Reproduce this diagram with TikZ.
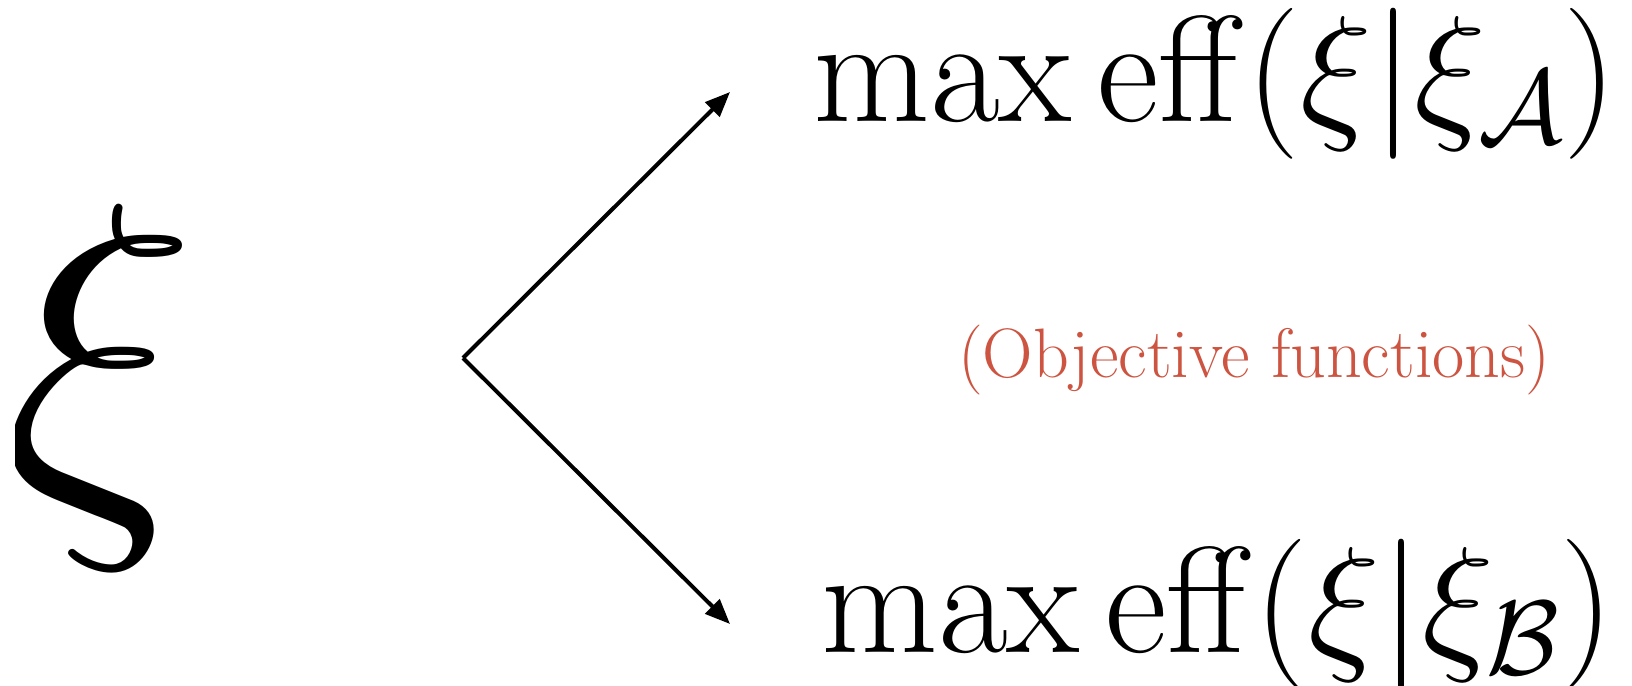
\RequirePackage{fix-cm}
\documentclass[tikz,border=0pt]{standalone}
\usepackage{amsmath}
\usetikzlibrary{arrows.meta}
\definecolor{objred}{RGB}{204,84,64}
\tikzset{
  conn/.style={line width=4pt,-{Triangle[length=25pt,width=20pt]}},
  bigtext/.style={inner sep=0pt,anchor=base west,font=\fontsize{151}{151}\selectfont},
}
\begin{document}
\begin{tikzpicture}[x=1pt,y=-1pt]
\useasboundingbox (0,0) rectangle (1632,685);
\begin{scope}
\clip (15,0) rectangle (400,685);
\node[inner sep=0pt,anchor=base west,font=\fontsize{410}{410}\selectfont] (xi) at (2,489) {$\xi$};
\end{scope}
\coordinate (v) at (463,358);
\coordinate (a) at (730,92);
\coordinate (b) at (730,624);
\draw[conn] (v) -- (a);
\draw[conn] (v) -- (b);
\node[bigtext] (ta) at (813,121) {$\max\operatorname{eff}(\xi|\xi_{\mathcal{A}})$};
\node[bigtext] (tb) at (821,652) {$\max\operatorname{eff}(\xi|\xi_{\mathcal{B}})$};
\node[inner sep=0pt,anchor=base west,text=objred,font=\fontsize{70}{70}\selectfont] (obj) at (958,377) {(Objective functions)};
\end{tikzpicture}
\end{document}
